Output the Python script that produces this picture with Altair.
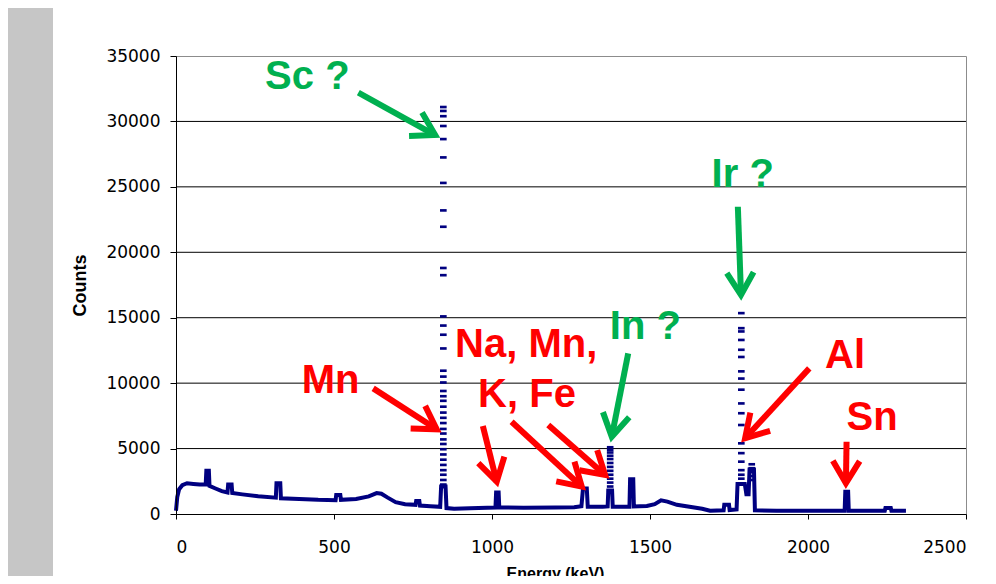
import math
import altair as alt
import pandas as pd

# ---------------- data ----------------
x_ticks = [0, 500, 1000, 1500, 2000, 2500]
y_ticks = [0, 5000, 10000, 15000, 20000, 25000, 30000, 35000]
grid_counts = [5000, 10000, 15000, 20000, 25000, 30000]

# continuum trace of the spectrum (energy keV, counts)
spec_energy = [0, 4, 10, 20, 35, 55, 75, 94, 96, 104, 106, 125, 145, 163, 165, 176, 178,
               210, 260, 316, 318, 330, 332, 390, 450, 505, 507, 520, 522, 570, 610, 635,
               650, 670, 695, 725, 758, 760, 770, 772, 805, 836, 839, 853, 856, 880, 930,
               985, 1011, 1013, 1021, 1023, 1100, 1200, 1260, 1283, 1288, 1300, 1303, 1350,
               1366, 1368, 1380, 1382, 1435, 1437, 1447, 1449, 1490, 1515, 1535, 1555, 1585,
               1625, 1665, 1690, 1733, 1735, 1750, 1752, 1774, 1777, 1800, 1805, 1812, 1815,
               1829, 1832, 1900, 2000, 2116, 2118, 2127, 2129, 2243, 2245, 2262, 2264, 2310]
spec_counts = [250, 1300, 1900, 2200, 2350, 2300, 2250, 2250, 3300, 3300, 2150, 1950, 1750,
               1650, 2250, 2250, 1600, 1500, 1350, 1250, 2350, 2350, 1200, 1150, 1080, 1050,
               1450, 1450, 1080, 1150, 1350, 1600, 1550, 1250, 900, 750, 700, 1000, 1000, 650,
               600, 550, 2100, 2100, 450, 400, 430, 480, 500, 1650, 1650, 500, 480, 500, 520,
               600, 1950, 1950, 550, 550, 580, 1800, 1800, 560, 560, 2650, 2650, 580, 620, 750,
               1050, 950, 700, 550, 400, 250, 280, 700, 700, 300, 350, 2300, 2300, 1500, 1500,
               3400, 3400, 280, 250, 250, 250, 1700, 1700, 250, 250, 460, 460, 250, 250]

# individual channels of the tall peaks (drawn as dashes)
sc_energy = 846
sc_counts = [31100, 30800, 30400, 29650, 28650, 27250, 25300, 23200, 21950, 18800, 18250,
             15100, 14400, 13700, 12650, 10950, 10500, 10050, 9400, 9000, 8650, 8200, 7750,
             7350, 6950, 6500, 6150, 5700, 5350, 4950, 4550, 4150, 3750, 3350, 3000, 2600, 2250]
ir_energy = 1789
ir_counts = [15350, 14200, 13950, 13300, 12550, 12000, 10900, 10350, 9500, 8450, 7700, 6800,
             5400, 4650, 4000, 3350, 3000, 2700]
ir2_energy = 1822
ir2_counts = [3800, 3500, 3200, 2900, 2600]
in_energy = 1374
in_counts = [5100, 4900, 4700, 4450, 4200, 3900, 3600, 3300, 3000, 2700, 2400, 2100, 1800]

# annotations
RED = "#ff0000"
GREEN = "#00b050"
label_text = ["Sc ?", "Mn", "Na, Mn,", "K, Fe", "In ?", "Ir ?", "Al", "Sn"]
label_energy = [282, 398, 883, 956, 1373, 1695, 2054, 2122]
label_counts = [32450, 9220, 12020, 8150, 13350, 25010, 11130, 6420]
label_color = [GREEN, RED, RED, RED, GREEN, GREEN, RED, RED]

arrow_start_energy = [577, 624, 971, 1062, 1178, 1431, 1778, 2004, 2122]
arrow_start_counts = [32200, 9600, 6720, 7050, 6800, 12280, 23480, 11130, 5520]
arrow_tip_energy = [820, 825, 1015, 1284, 1358, 1379, 1788, 1801, 2120]
arrow_tip_counts = [28960, 6470, 2470, 2090, 2980, 5910, 16740, 5790, 2350]
arrow_color = [GREEN, RED, RED, RED, RED, GREEN, GREEN, RED, RED]

# ---------------- chart ----------------
PLOT_W, PLOT_H = 790, 458
X_MAX, Y_MAX = 2500, 35000
NAVY = "#000080"

spec_df = pd.DataFrame({"energy": spec_energy, "counts": spec_counts,
                        "i": list(range(len(spec_energy)))})
dash_df = pd.DataFrame({
    "energy": [sc_energy] * len(sc_counts) + [ir_energy] * len(ir_counts)
              + [ir2_energy] * len(ir2_counts) + [in_energy] * len(in_counts),
    "counts": sc_counts + ir_counts + ir2_counts + in_counts,
})
grid_df = pd.DataFrame({"counts": grid_counts})
label_df = pd.DataFrame({"energy": label_energy, "counts": label_counts,
                         "text": label_text, "color": label_color})

angles = []
for se, sc, te, tc in zip(arrow_start_energy, arrow_start_counts, arrow_tip_energy, arrow_tip_counts):
    dx = (te - se) * PLOT_W / X_MAX
    dy = -(tc - sc) * PLOT_H / Y_MAX
    angles.append(math.degrees(math.atan2(dx, -dy)) % 360)
arrow_df = pd.DataFrame({"e0": arrow_start_energy, "c0": arrow_start_counts,
                         "e1": arrow_tip_energy, "c1": arrow_tip_counts,
                         "color": arrow_color, "angle": angles})

xs = alt.Scale(domain=[0, X_MAX], nice=False)
ys = alt.Scale(domain=[0, Y_MAX], nice=False)

x_axis = alt.Axis(values=x_ticks, format="d", grid=False, domainColor="black",
                  tickColor="black", tickSize=5, labelFont="DejaVu Sans", labelFontSize=17,
                  labelColor="black", labelPadding=20, title="Energy (keV)",
                  titleFont="Liberation Sans", titleFontSize=16, titleFontWeight="bold",
                  titleColor="black", titleX=379, titleY=64, titleAlign="center",
                  titleBaseline="alphabetic", zindex=1)
y_axis = alt.Axis(values=y_ticks, format="d", grid=False, domainColor="black",
                  tickColor="black", tickSize=6, labelFont="DejaVu Sans", labelFontSize=17,
                  labelColor="black", labelPadding=10, title="Counts",
                  titleFont="Liberation Sans", titleFontSize=18, titleFontWeight="bold",
                  titleColor="black", titleAngle=270, titleX=-96, titleY=229,
                  titleAlign="center", titleBaseline="middle", zindex=1)

# grey strip at the left edge of the slide
strip = alt.Chart(pd.DataFrame({"a": [0]})).mark_rect(color="#c6c6c6").encode(
    x=alt.value(-170), x2=alt.value(-123), y=alt.value(-50), y2=alt.value(600))

grid = alt.Chart(grid_df).mark_rule(color="black", strokeWidth=1).encode(
    y=alt.Y("counts:Q", scale=ys, axis=y_axis))

line = alt.Chart(spec_df).mark_line(color=NAVY, strokeWidth=4, strokeJoin="miter").encode(
    x=alt.X("energy:Q", scale=xs, axis=x_axis),
    y=alt.Y("counts:Q", scale=ys, axis=y_axis),
    order="i:Q")

dashes = alt.Chart(dash_df).mark_point(
    shape="M-1,-0.4H1V0.4H-1Z", filled=True, size=44, color=NAVY, opacity=1).encode(
    x=alt.X("energy:Q", scale=xs), y=alt.Y("counts:Q", scale=ys))

shafts = alt.Chart(arrow_df).mark_rule(strokeWidth=6).encode(
    x=alt.X("e0:Q", scale=xs), y=alt.Y("c0:Q", scale=ys),
    x2="e1:Q", y2="c1:Q", color=alt.Color("color:N", scale=None))

heads = alt.Chart(arrow_df).mark_point(
    shape="M-0.6,1L0,0L0.6,1", filled=False, strokeWidth=6, size=2000, opacity=1,
    strokeJoin="miter").encode(
    x=alt.X("e1:Q", scale=xs), y=alt.Y("c1:Q", scale=ys),
    angle=alt.Angle("angle:Q", scale=None),
    color=alt.Color("color:N", scale=None))

labels = alt.Chart(label_df).mark_text(
    font="Liberation Sans", fontSize=40, fontWeight="bold", align="left",
    baseline="alphabetic").encode(
    x=alt.X("energy:Q", scale=xs), y=alt.Y("counts:Q", scale=ys),
    text="text:N", color=alt.Color("color:N", scale=None))

chart = alt.layer(strip, grid, line, dashes, shafts, heads, labels).properties(
    width=PLOT_W, height=PLOT_H,
    autosize=alt.AutoSizeParams(type="none"),
    padding={"left": 168, "top": 48, "right": 22, "bottom": 62},
    background="white",
).configure_view(stroke="#8c8c8c", strokeWidth=1)

chart.save("out.html", embed_options={"renderer": "svg", "actions": False})
